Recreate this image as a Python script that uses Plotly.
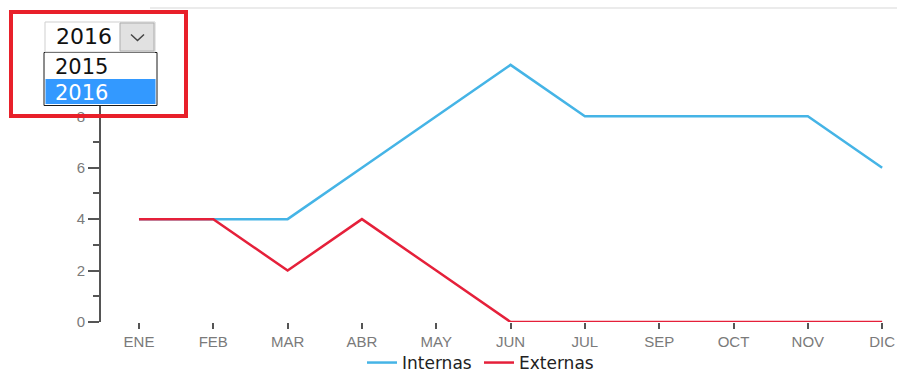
import plotly.graph_objects as go

months = ["ENE", "FEB", "MAR", "ABR", "MAY", "JUN", "JUL", "SEP", "OCT", "NOV", "DIC"]
internas = [4, 4, 4, 6, 8, 10, 8, 8, 8, 8, 6]
externas = [4, 4, 2, 4, 2, 0, 0, 0, 0, 0, 0]
years = ["2015", "2016"]
selected_year = "2016"
y_ticks = [0, 2, 4, 6, 8]

W, H = 897, 372
L, R, T, B = 101, 897, 52, 322


def px(p):
    return (p - L) / (R - L)


def py(p):
    return (B - p) / (B - T)


fig = go.Figure()
fig.add_trace(go.Scatter(x=months, y=internas, mode="lines", name="Internas",
                         line=dict(color="#45b4e6", width=2.5)))
fig.add_trace(go.Scatter(x=months, y=externas, mode="lines", name="Externas",
                         line=dict(color="#e5203a", width=2.5)))

shapes = [
    # faint page rule at top
    dict(type="line", xref="paper", yref="paper", x0=px(150), x1=px(897), y0=py(8), y1=py(8),
         line=dict(color="#ebebeb", width=2), layer="above"),
    # listbox
    dict(type="rect", xref="paper", yref="paper", x0=px(44), x1=px(157), y0=py(52.5), y1=py(105.5),
         fillcolor="white", line=dict(color="#1a1a1a", width=1), layer="above"),
    dict(type="rect", xref="paper", yref="paper", x0=px(45.5), x1=px(155.5), y0=py(79), y1=py(104),
         fillcolor="#3399ff", line=dict(width=0), layer="above"),
    # select box
    dict(type="rect", xref="paper", yref="paper", x0=px(45), x1=px(155), y0=py(22), y1=py(52),
         fillcolor="white", line=dict(color="#cfcfcf", width=1), layer="above"),
    dict(type="rect", xref="paper", yref="paper", x0=px(120), x1=px(154), y0=py(23), y1=py(51),
         fillcolor="#e1e1e1", line=dict(color="#adadad", width=1), layer="above"),
    dict(type="path", xref="paper", yref="paper",
         path="M %f %f L %f %f L %f %f" % (px(131), py(34.5), px(137.5), py(40.5), px(144), py(34.5)),
         line=dict(color="#444444", width=1.5), layer="above"),
    # red highlight rectangle
    dict(type="rect", xref="paper", yref="paper", x0=px(11), x1=px(186), y0=py(12), y1=py(116),
         fillcolor="rgba(0,0,0,0)", line=dict(color="#e8202a", width=4), layer="above"),
]

annotations = [
    dict(text=selected_year, xref="paper", yref="paper", x=px(84), y=py(37), showarrow=False,
         xanchor="center", yanchor="middle", borderpad=0,
         font=dict(family="DejaVu Sans", size=22, color="#111111")),
    dict(text=years[0], xref="paper", yref="paper", x=px(81.5), y=py(66.5), showarrow=False,
         xanchor="center", yanchor="middle", borderpad=0,
         font=dict(family="DejaVu Sans", size=21, color="#111111")),
    dict(text=years[1], xref="paper", yref="paper", x=px(81.5), y=py(92.5), showarrow=False,
         xanchor="center", yanchor="middle", borderpad=0,
         font=dict(family="DejaVu Sans", size=21, color="#ffffff")),
]

fig.update_layout(
    width=W, height=H,
    margin=dict(l=L, r=W - R, t=T, b=H - B, pad=0, autoexpand=False),
    paper_bgcolor="white", plot_bgcolor="white",
    shapes=shapes, annotations=annotations,
    showlegend=True,
    legend=dict(orientation="h", xanchor="left", yanchor="middle", x=px(362), y=py(363),
                font=dict(family="DejaVu Sans", size=17, color="#222222"),
                bgcolor="rgba(0,0,0,0)", itemwidth=30, entrywidth=72),
    xaxis=dict(range=[-0.511, 10.2], showgrid=False, zeroline=False, showline=False,
               ticks="outside", ticklen=6, tickwidth=2, tickcolor="#555555",
               tickfont=dict(family="Liberation Sans", size=15, color="#7a7a7a")),
    yaxis=dict(range=[0, 10.5], showgrid=False, zeroline=False, showline=True,
               linecolor="#555555", linewidth=2,
               tickvals=y_ticks, ticks="outside", ticklen=11, tickwidth=2,
               tickcolor="#555555",
               tickfont=dict(family="Liberation Sans", size=15, color="#7a7a7a"),
               minor=dict(dtick=1, ticks="outside", ticklen=6, tickwidth=2, tickcolor="#555555")),
)

fig.write_html("out.html")
